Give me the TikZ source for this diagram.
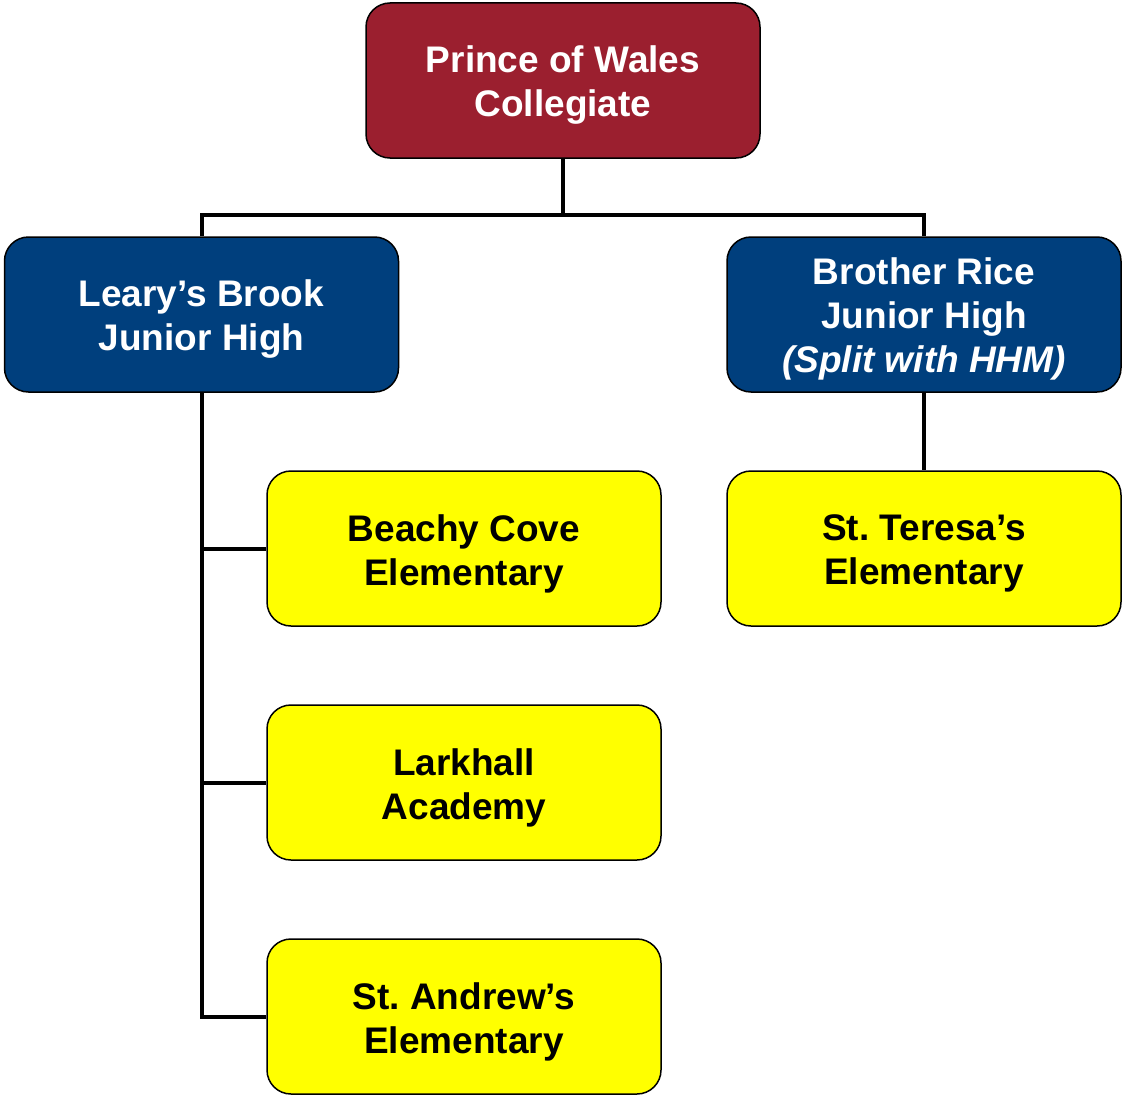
\documentclass[tikz,border=0pt]{standalone}
\usepackage{fontspec}
\setmainfont{Liberation Sans}
\frenchspacing
\begin{document}
\begin{tikzpicture}[x=1pt,y=-1pt,
  box/.style={draw=black, line width=1.5pt, rounded corners=24pt, minimum width=394pt, minimum height=155pt, inner sep=0pt},
  txt/.style={align=center, inner sep=0pt, font=\fontsize{37}{44}\selectfont\bfseries},
  redbox/.style={box, fill=boxred},
  bluebox/.style={box, fill=boxblue},
  yelbox/.style={box, fill=boxyel},
  conn/.style={line width=4pt}]
\definecolor{boxred}{HTML}{9B1F2F}
\definecolor{boxblue}{HTML}{003F7D}
\definecolor{boxyel}{HTML}{FFFF00}
\useasboundingbox (0,0) rectangle (1123,1097);
\node[redbox] (top) at (563,80.5) {};
\node[bluebox] (leary) at (201.5,314.5) {};
\node[bluebox] (rice) at (924,314.5) {};
\node[yelbox] (beachy) at (464,548.5) {};
\node[yelbox] (lark) at (464,782.5) {};
\node[yelbox] (andrew) at (464,1016.5) {};
\node[yelbox] (teresa) at (924,548.5) {};
\node[txt, text=white] (topt) at ([yshift=-5pt]top.center) {Prince of Wales\\Collegiate};
\node[txt, text=white] (learyt) at ([yshift=-5pt]leary.center) {Leary’s Brook\\Junior High};
\node[txt, text=white] (ricet) at ([yshift=-4pt]rice.center) {Brother Rice\\Junior High\\\textit{(Split with HHM)}};
\node[txt] (beachyt) at ([yshift=-5pt]beachy.center) {Beachy Cove\\Elementary};
\node[txt] (larkt) at ([yshift=-5pt]lark.center) {Larkhall\\Academy};
\node[txt] (andrewt) at ([yshift=-5pt]andrew.center) {St. Andrew’s\\Elementary};
\node[txt] (teresat) at ([yshift=-5pt]teresa.center) {St. Teresa’s\\Elementary};
\coordinate (j) at (563,215);
\draw[conn] (top.south) -- (j);
\draw[conn] (leary.north) |- (j) -| (rice.north);
\draw[conn] (leary.south) |- (beachy.west);
\draw[conn] (leary.south) |- (lark.west);
\draw[conn] (leary.south) |- (andrew.west);
\draw[conn] (rice.south) -- (teresa.north);
\end{tikzpicture}
\end{document}
